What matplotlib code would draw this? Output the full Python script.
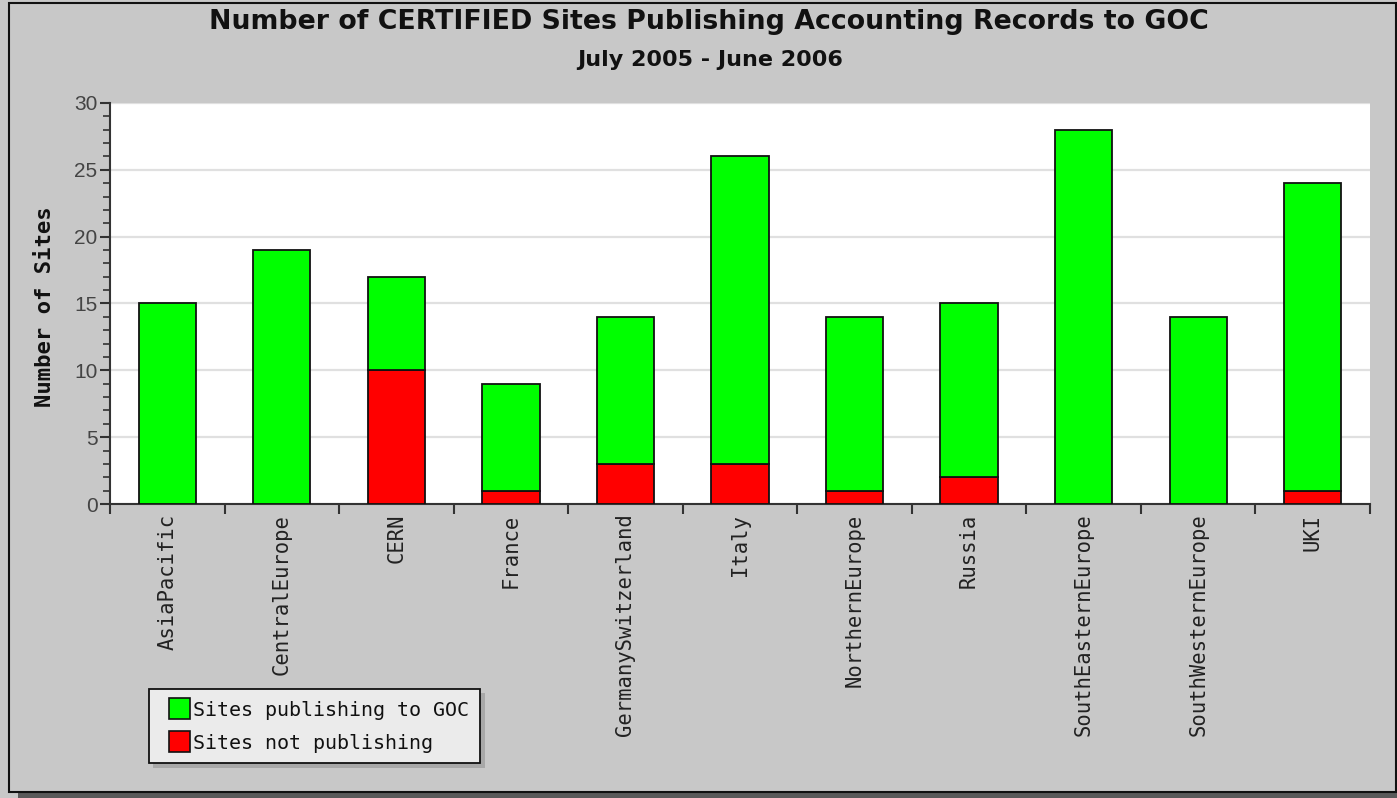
import matplotlib
matplotlib.use("Agg")
import matplotlib.pyplot as plt
from matplotlib.patches import Rectangle
from matplotlib.ticker import MultipleLocator, FixedLocator
import numpy as np

categories = ["AsiaPacific", "CentralEurope", "CERN", "France", "GermanySwitzerland",
              "Italy", "NorthernEurope", "Russia", "SouthEasternEurope",
              "SouthWesternEurope", "UKI"]
not_publishing = [0, 0, 10, 1, 3, 3, 1, 2, 0, 0, 1]
publishing = [15, 19, 7, 8, 11, 23, 13, 13, 28, 14, 23]
series_labels = ["Sites publishing to GOC", "Sites not publishing"]
series_colors = ["#00ff00", "#ff0000"]
title = "Number of CERTIFIED Sites Publishing Accounting Records to GOC"
subtitle = "July 2005 - June 2006"
ylabel = "Number of Sites"

W, H = 1397, 798
BG = "#c8c8c8"
fig = plt.figure(figsize=(W / 100, H / 100), dpi=100, facecolor=BG)

def fx(px):
    return px / W

def fy(py):
    return 1 - py / H

def prect(x0, y0, x1, y1, **kw):
    # rectangle given in pixel coords (top-left origin)
    r = Rectangle((fx(x0), fy(y1)), fx(x1 - x0), (y1 - y0) / H,
                  transform=fig.transFigure, **kw)
    fig.patches.append(r)
    return r

# outer border with shadow
prect(18, 792, 1397, 798, facecolor="#5a5a5a", edgecolor="none", zorder=0)
prect(8.5, 2.5, 1396, 791.5, facecolor=BG, edgecolor="#111111", linewidth=1.5, zorder=1)

left, right, top, bottom = 110, 1370, 103, 504
ax = fig.add_axes([fx(left), fy(bottom), fx(right - left), (bottom - top) / H])
ax.set_zorder(2)
ax.set_facecolor("white")

x = np.arange(len(categories))
ax.bar(x, not_publishing, width=0.5, color=series_colors[1], edgecolor="#111111",
       linewidth=1.3, zorder=3, label=series_labels[1])
ax.bar(x, publishing, width=0.5, bottom=not_publishing, color=series_colors[0],
       edgecolor="#111111", linewidth=1.3, zorder=3, label=series_labels[0])

ax.set_xlim(-0.5, len(categories) - 0.5)
ax.set_ylim(0, 30)
ax.yaxis.set_major_locator(MultipleLocator(5))
ax.yaxis.set_minor_locator(MultipleLocator(1))
ax.grid(axis="y", which="major", color="#e0e0e0", linewidth=1.6, zorder=0)
ax.set_axisbelow(True)

ax.set_xticks(x)
ax.set_xticklabels(categories, rotation=90, fontfamily="DejaVu Sans Mono",
                   fontsize=14.8, color="#222222", va="top", ha="center")
ax.xaxis.set_minor_locator(FixedLocator(np.arange(-0.5, len(categories), 1.0)))
ax.tick_params(axis="x", which="major", length=0, pad=7)
ax.tick_params(axis="x", which="minor", length=7, width=1.5, color="#333333")
ax.tick_params(axis="y", which="major", length=7, width=1.5, color="#333333",
               labelsize=15, labelcolor="#444444", pad=2)
ax.tick_params(axis="y", which="minor", length=5, width=1.2, color="#333333")
for lbl in ax.get_yticklabels():
    lbl.set_fontfamily("Liberation Sans")

for s in ["top", "right"]:
    ax.spines[s].set_visible(False)
for s in ["left", "bottom"]:
    ax.spines[s].set_color("#333333")
    ax.spines[s].set_linewidth(1.5)

fig.text(fx(45), fy(307), ylabel, rotation=90, ha="center", va="center",
         fontfamily="DejaVu Sans Mono", fontweight="bold", fontsize=16, color="#111111")
fig.text(fx(709), fy(22), title, ha="center", va="center",
         fontfamily="DejaVu Sans", fontweight="bold", fontsize=19.3, color="#111111")
fig.text(fx(710), fy(60), subtitle, ha="center", va="center",
         fontfamily="DejaVu Sans", fontweight="bold", fontsize=16, color="#111111")

# legend (box with shadow, square swatches)
prect(153, 693, 485, 768, facecolor="#a8a8a8", edgecolor="none", zorder=4)
prect(148.5, 688.5, 480, 763, facecolor="#ebebeb", edgecolor="#111111",
      linewidth=1.3, zorder=5)
row_y = [708.5, 741.5]
for lab, col, yc in zip(series_labels, series_colors, row_y):
    prect(168.5, yc - 10.5, 190, yc + 10.5, facecolor=col, edgecolor="#111111",
          linewidth=1.2, zorder=6)
    fig.text(fx(193), fy(yc), lab, ha="left", va="center_baseline",
             fontfamily="DejaVu Sans Mono", fontsize=14.4, color="#111111", zorder=7)

fig.savefig("out.png", dpi=100, facecolor=BG)
